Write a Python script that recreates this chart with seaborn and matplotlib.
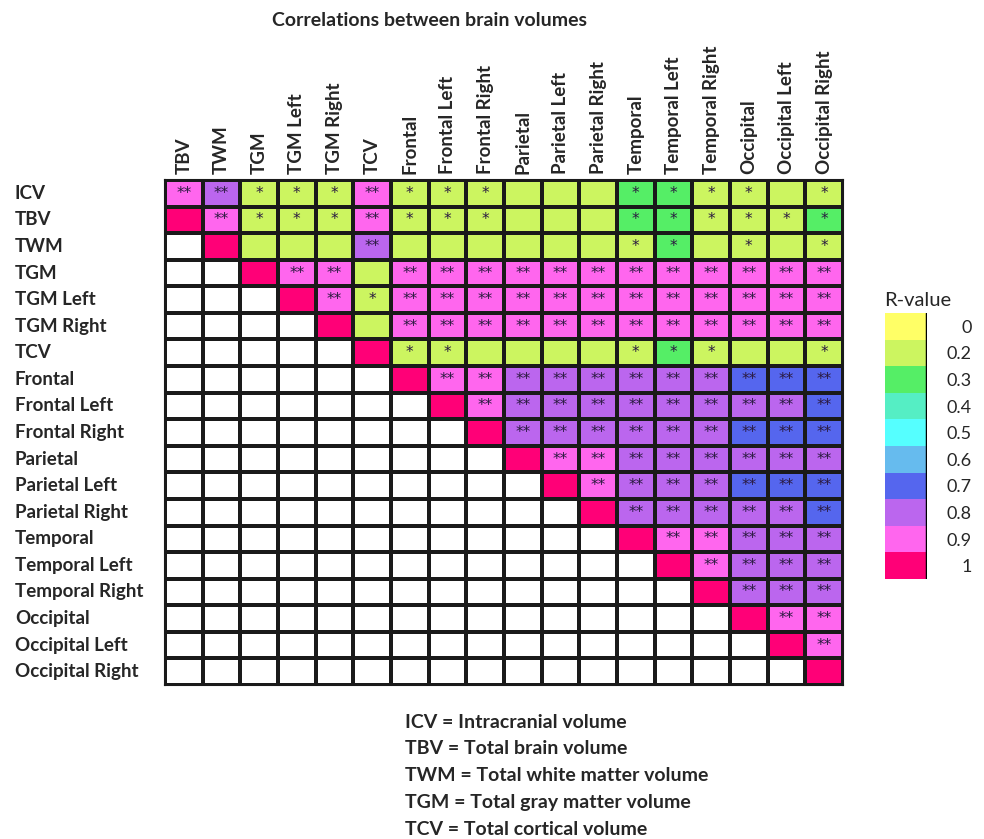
import numpy as np
import pandas as pd
import matplotlib
matplotlib.use('Agg')
import matplotlib.pyplot as plt
import seaborn as sns
from matplotlib.colors import ListedColormap

# =============================================================================
# 数据
# =============================================================================
variables = ['ICV', 'TBV', 'TWM', 'TGM', 'TGM Left', 'TGM Right', 'TCV',
             'Frontal', 'Frontal Left', 'Frontal Right',
             'Parietal', 'Parietal Left', 'Parietal Right',
             'Temporal', 'Temporal Left', 'Temporal Right',
             'Occipital', 'Occipital Left', 'Occipital Right']

# 每行只写有颜色的部分(从对角线开始), ICV 行从第一列开始
r_values = [
    [0.9, 0.8, 0.2, 0.2, 0.2, 0.9, 0.2, 0.2, 0.2, 0.2, 0.2, 0.2, 0.3, 0.3, 0.2, 0.2, 0.2, 0.2],
    [1, 0.9, 0.2, 0.2, 0.2, 0.9, 0.2, 0.2, 0.2, 0.2, 0.2, 0.2, 0.3, 0.3, 0.2, 0.2, 0.2, 0.3],
    [1, 0.2, 0.2, 0.2, 0.8, 0.2, 0.2, 0.2, 0.2, 0.2, 0.2, 0.2, 0.3, 0.2, 0.2, 0.2, 0.2],
    [1, 0.9, 0.9, 0.2, 0.9, 0.9, 0.9, 0.9, 0.9, 0.9, 0.9, 0.9, 0.9, 0.9, 0.9, 0.9],
    [1, 0.9, 0.2, 0.9, 0.9, 0.9, 0.9, 0.9, 0.9, 0.9, 0.9, 0.9, 0.9, 0.9, 0.9],
    [1, 0.2, 0.9, 0.9, 0.9, 0.9, 0.9, 0.9, 0.9, 0.9, 0.9, 0.9, 0.9, 0.9],
    [1, 0.2, 0.2, 0.2, 0.2, 0.2, 0.2, 0.2, 0.3, 0.2, 0.2, 0.2, 0.2],
    [1, 0.9, 0.9, 0.8, 0.8, 0.8, 0.8, 0.8, 0.8, 0.7, 0.7, 0.7],
    [1, 0.9, 0.8, 0.8, 0.8, 0.8, 0.8, 0.8, 0.8, 0.8, 0.7],
    [1, 0.8, 0.8, 0.8, 0.8, 0.8, 0.8, 0.7, 0.7, 0.7],
    [1, 0.9, 0.9, 0.8, 0.8, 0.8, 0.8, 0.8, 0.8],
    [1, 0.9, 0.8, 0.8, 0.8, 0.7, 0.7, 0.7],
    [1, 0.8, 0.8, 0.8, 0.8, 0.8, 0.7],
    [1, 0.9, 0.9, 0.8, 0.8, 0.8],
    [1, 0.9, 0.8, 0.8, 0.8],
    [1, 0.8, 0.8, 0.8],
    [1, 0.9, 0.9],
    [1, 0.9],
    [1],
]

# 显著性: 2 = '**', 1 = '*', 0 = 无
stars = [
    '221112111000111101',
    '021112111000111111',
    '00002000000110101',
    '0220222222222222',
    '021222222222222',
    '00222222222222',
    '0110000111001',
    '022222222222',
    '02222222222',
    '0222222222',
    '022222222',
    '02222222',
    '0222222',
    '022222',
    '02222',
    '0222',
    '022',
    '02',
    '0',
]

cbar_levels = [0, 0.2, 0.3, 0.4, 0.5, 0.6, 0.7, 0.8, 0.9, 1]
cbar_labels = ['0', '0.2', '0.3', '0.4', '0.5', '0.6', '0.7', '0.8', '0.9', '1']
cbar_colors = ['#FFFF66', '#CCF560', '#55EE66', '#55EEC4', '#55FFFF',
               '#66BBEE', '#5566EE', '#BB66EE', '#FF66EE', '#FF0077']

notes = ['ICV = Intracranial volume',
         'TBV = Total brain volume',
         'TWM = Total white matter volume',
         'TGM = Total gray matter volume',
         'TCV = Total cortical volume']

# =============================================================================
# 整理矩阵
# =============================================================================
n_rows = len(variables)
n_cols = len(variables) - 1
code = np.zeros((n_rows, n_cols))
annot = np.full((n_rows, n_cols), '', dtype=object)
for i in range(n_rows):
    start = max(i - 1, 0)
    for k, v in enumerate(r_values[i]):
        code[i, start + k] = int(np.argmin(np.abs(np.array(cbar_levels) - v))) + 1
        annot[i, start + k] = {'0': '', '1': '*', '2': '**'}[stars[i][k]]

df = pd.DataFrame(code, index=variables, columns=variables[1:])
cmap = ListedColormap(['white'] + cbar_colors)

# =============================================================================
# 绘图
# =============================================================================
sns.set_style('white')
plt.rcParams['font.family'] = ['Lato', 'DejaVu Sans']
fs = 13.5

fig = plt.figure(figsize=(9.84, 8.39), dpi=100)
ax = fig.add_axes([165/984, 1 - 685/839, 678/984, 505/839])
sns.heatmap(df, cmap=cmap, vmin=-0.5, vmax=10.5, annot=annot, fmt='',
            annot_kws={'color': '#2a1a40', 'fontsize': 11, 'family': 'DejaVu Sans'},
            linewidths=1.5, linecolor='#1a1a1a', cbar=False, ax=ax)
for s in ax.spines.values():
    s.set_visible(True)
    s.set_linewidth(1.5)
    s.set_color('#1a1a1a')

ax.xaxis.tick_top()
ax.set_xticklabels(variables[1:], rotation=90, fontweight='bold', fontsize=fs,
                   va='bottom', ha='center')
ax.set_yticklabels(variables, rotation=0, fontweight='bold', fontsize=fs, ha='left')
ax.tick_params(axis='y', length=0, pad=108)
ax.tick_params(axis='x', length=0, pad=4)
ax.set_xlabel('')
ax.set_ylabel('')

fig.text(430/984, 1 - 20/839, 'Correlations between brain volumes',
         ha='center', va='center', fontweight='bold', fontsize=14)

# 色条
cax = fig.add_axes([885/984, 1 - 579/839, 42/984, 266/839])
cb_df = pd.DataFrame(np.arange(1, len(cbar_levels) + 1).reshape(-1, 1), index=cbar_labels)
sns.heatmap(cb_df, cmap=cmap, vmin=-0.5, vmax=10.5, cbar=False, ax=cax,
            xticklabels=False, yticklabels=cbar_labels)
cax.yaxis.tick_right()
cax.set_yticklabels(cbar_labels, rotation=0, ha='right', fontsize=13)
cax.tick_params(axis='y', length=0, pad=32)
cax.axvline(1, color='black', lw=2.5)
cax.set_ylabel('')
fig.text(918/984, 1 - 300/839, 'R-value', ha='center', va='center', fontsize=14.5)

# 注释
for j, note in enumerate(notes):
    fig.text(405/984, 1 - (722 + 26.8*j)/839, note, ha='left', va='center',
             fontweight='bold', fontsize=14)

fig.savefig('out.png', dpi=100)
